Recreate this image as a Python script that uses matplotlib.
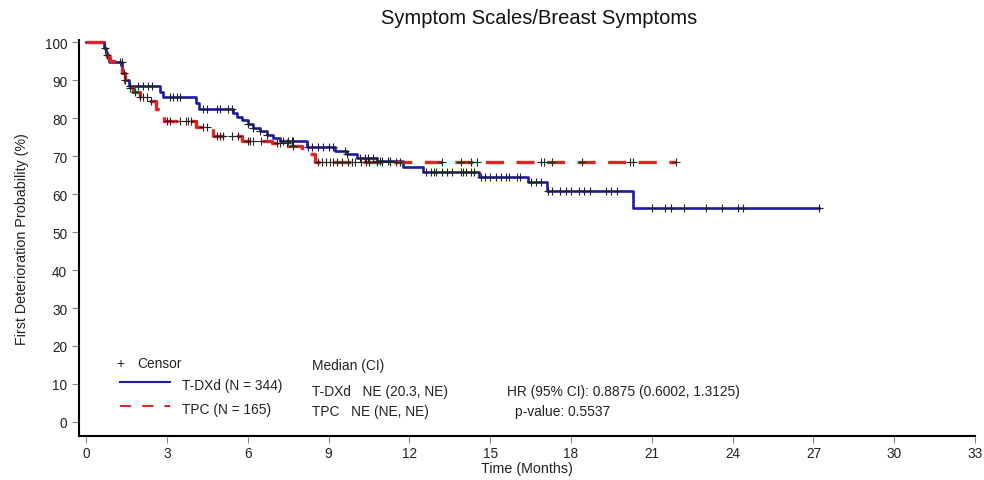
import numpy as np
import matplotlib
matplotlib.use("Agg")
import matplotlib.pyplot as plt

plt.rcParams['font.family'] = ['Liberation Sans', 'DejaVu Sans']
plt.rcParams['lines.scale_dashes'] = False

# ---- data ----
tdxd_event_t = [0.68, 0.75, 0.85, 1.35, 1.45, 1.6, 2.75, 2.85, 4.1, 4.2, 5.45, 5.6, 5.8, 6.0, 6.2,
                6.45, 6.7, 6.95, 7.2, 8.2, 9.24, 9.7, 10.05, 10.8, 11.77, 12.5, 14.6, 16.4, 17.1, 20.3]
tdxd_event_s = [98.5, 96.5, 94.7, 92.0, 90.0, 88.4, 87.0, 85.5, 84.0, 82.4, 81.3, 80.4, 79.4, 78.5, 77.5,
                76.6, 75.6, 74.8, 74.0, 72.4, 71.3, 70.5, 69.5, 68.7, 67.1, 65.8, 64.5, 63.2, 60.8, 56.3]
tdxd_end = 27.2
tdxd_censor = [0.7, 0.78, 1.26, 1.34, 1.4, 1.45, 1.63, 1.93, 2.1, 2.3, 2.45, 3.1, 3.23, 3.37, 3.5,
               4.35, 4.5, 4.86, 4.97, 5.27, 5.4, 6.0, 6.2, 6.45, 6.7, 7.3, 7.5, 7.65, 7.7, 8.25, 8.4,
               8.6, 8.8, 9.0, 9.17, 9.6, 9.7, 10.17, 10.36, 10.47, 10.65, 10.8, 10.9, 11.0, 11.2, 11.3,
               12.6, 12.8, 12.9, 13.0, 13.2, 13.4, 13.6, 13.9, 14.0, 14.1, 14.3, 14.4,
               14.65, 14.8, 15.0, 15.2, 15.4, 15.6, 15.7, 16.0, 16.1, 16.5, 16.7, 16.9,
               17.15, 17.3, 17.6, 17.8, 18.0, 18.3, 18.5, 18.7, 19.3, 19.5, 19.7,
               21.0, 21.5, 21.7, 22.2, 23.0, 23.6, 24.2, 24.4, 27.2]

tpc_event_t = [0.68, 0.78, 0.9, 1.35, 1.45, 1.55, 1.75, 2.0, 2.3, 2.6, 2.9, 4.1, 4.7, 5.8, 6.9, 7.5, 8.0, 8.5]
tpc_event_s = [98.0, 96.0, 95.0, 92.0, 89.5, 88.0, 86.8, 85.5, 84.5, 82.4, 79.2, 77.6, 75.3, 74.0, 73.5, 72.6, 70.5, 68.4]
tpc_end = 21.9
tpc_censor = [1.63, 1.82, 2.0, 2.1, 2.26, 2.4, 3.0, 3.1, 3.5, 3.7, 3.8, 3.9, 4.35, 4.5,
              4.85, 4.97, 5.1, 5.4, 5.65, 6.0, 6.1, 6.2, 6.5, 7.1, 7.2, 7.46, 7.7,
              8.6, 8.75, 8.9, 9.05, 9.17, 9.3, 9.5, 9.73, 9.87, 10.0, 10.2, 10.4, 10.5, 10.8,
              11.0, 11.3, 11.5, 11.65, 13.2, 13.9, 14.3, 14.5, 16.9, 17.0, 17.3, 18.4, 20.2, 20.3, 21.9]

x_ticks = [0, 3, 6, 9, 12, 15, 18, 21, 24, 27, 30, 33]
y_ticks = [0, 10, 20, 30, 40, 50, 60, 70, 80, 90, 100]

BLUE = '#1c1ca8'
RED = '#e02424'


def step_arrays(ev_t, ev_s, end):
    t = np.concatenate([[0.0], ev_t, [end]])
    s = np.concatenate([[100.0], ev_s, [ev_s[-1]]])
    return t, s


def surv_at(ev_t, ev_s, times):
    t = np.concatenate([[0.0], ev_t])
    s = np.concatenate([[100.0], ev_s])
    idx = np.searchsorted(t, np.asarray(times), side='right') - 1
    return s[idx]


fig = plt.figure(figsize=(9.84, 4.81), dpi=100)
ax = fig.add_axes([0.0803, 0.0915, 0.9107, 0.8235])

bt, bs = step_arrays(tdxd_event_t, tdxd_event_s, tdxd_end)
rt, rs = step_arrays(tpc_event_t, tpc_event_s, tpc_end)

ax.step(bt, bs, where='post', color=BLUE, lw=1.9, zorder=3)
ax.step(rt, rs, where='post', color=RED, lw=2.4, dashes=(13, 9), zorder=3)

ax.plot(tdxd_censor, surv_at(tdxd_event_t, tdxd_event_s, tdxd_censor), ls='none', marker='+',
        ms=6, mew=0.8, color='#222222', zorder=4)
ax.plot(tpc_censor, surv_at(tpc_event_t, tpc_event_s, tpc_censor), ls='none', marker='+',
        ms=6, mew=0.8, color='#222222', zorder=4)

ax.set_xlim(-0.26, 33)
ax.set_ylim(-3.7, 100.6)
ax.set_xticks(x_ticks)
ax.set_yticks(y_ticks)
ax.tick_params(axis='both', labelsize=9.8, length=5, width=0.8, color='#888888', labelcolor='#222222')
ax.tick_params(axis='x', pad=2)
for side in ['top', 'right']:
    ax.spines[side].set_visible(False)
for side in ['left', 'bottom']:
    ax.spines[side].set_linewidth(1.5)
    ax.spines[side].set_color('black')

ax.set_xlabel('Time (Months)', fontsize=10.3, color='#222222', labelpad=1)
ax.set_ylabel('First Deterioration Probability (%)', fontsize=10.3, color='#222222', labelpad=11)
fig.text(0.548, 0.962, 'Symptom Scales/Breast Symptoms', ha='center', va='center',
         fontsize=14.5, color='#111111')

# legend / annotations (figure pixel coords)
W, H = 984, 481
def fx(px):
    return px / W
def fy(py):
    return 1 - py / H

fs = 9.9
fig.text(fx(120), fy(364), '+', ha='center', va='center', fontsize=fs, color='#222222')
fig.text(fx(137), fy(364), 'Censor', ha='left', va='center', fontsize=fs, color='#222222')
fig.add_artist(plt.Line2D([fx(120), fx(170)], [fy(383), fy(383)], color=BLUE, lw=1.5))
fig.add_artist(plt.Line2D([fx(120), fx(170)], [fy(407), fy(407)], color=RED, lw=1.5, dashes=(8, 8)))
fig.text(fx(182), fy(386), 'T-DXd (N = 344)', ha='left', va='center', fontsize=fs, color='#222222')
fig.text(fx(182), fy(410), 'TPC (N = 165)', ha='left', va='center', fontsize=fs, color='#222222')

fig.text(fx(312), fy(366), 'Median (CI)', ha='left', va='center', fontsize=fs, color='#222222')
fig.text(fx(312), fy(392), 'T-DXd   NE (20.3, NE)', ha='left', va='center', fontsize=fs, color='#222222')
fig.text(fx(312), fy(412), 'TPC   NE (NE, NE)', ha='left', va='center', fontsize=fs, color='#222222')
fig.text(fx(507), fy(392), 'HR (95% CI): 0.8875 (0.6002, 1.3125)', ha='left', va='center', fontsize=fs, color='#222222')
fig.text(fx(515), fy(412), 'p-value: 0.5537', ha='left', va='center', fontsize=fs, color='#222222')

fig.savefig('out.png', dpi=100)
